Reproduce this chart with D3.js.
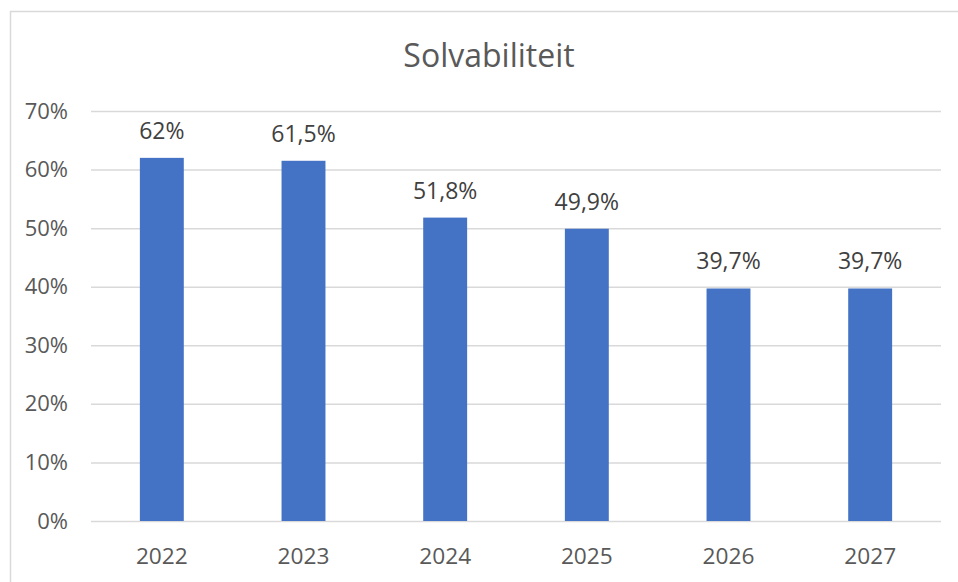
<!DOCTYPE html>
<html><head><meta charset="utf-8">
<script src="https://cdn.jsdelivr.net/npm/d3@7"></script>
<style>body{margin:0;background:#fff;}svg{display:block;}</style>
</head><body>
<script>
const categories = ["2022","2023","2024","2025","2026","2027"];
const values = [62, 61.5, 51.8, 49.9, 39.7, 39.7];
const valueLabels = ["62%","61,5%","51,8%","49,9%","39,7%","39,7%"];
const yTicks = [0,10,20,30,40,50,60,70];
const title = "Solvabiliteit";

const W = 958, H = 582;
const font = "'Open Sans', sans-serif";
const svg = d3.select("body").append("svg").attr("width", W).attr("height", H);

svg.append("rect").attr("x",10.5).attr("y",11.5).attr("width",W+10).attr("height",H+10)
  .attr("fill","#fff").attr("stroke","#D9D9D9").attr("stroke-width",1.5);

const m = {left:91, right:941, top:111, bottom:521};
const x = d3.scaleBand().domain(categories).range([m.left, m.right]).paddingInner(0.69).paddingOuter(0.345);
const y = d3.scaleLinear().domain([0,70]).range([m.bottom, m.top]);

svg.append("text").attr("x",489).attr("y",67).attr("text-anchor","middle")
  .attr("font-family",font).attr("font-size",32).attr("fill","#595959").text(title);

const yAxis = svg.append("g").attr("transform",`translate(${m.left},0)`)
  .call(d3.axisLeft(y).tickValues(yTicks).tickFormat(d=>d+"%").tickSize(-(m.right-m.left)).tickPadding(23));
yAxis.select(".domain").remove();
yAxis.selectAll(".tick line").attr("stroke","#D9D9D9").attr("stroke-width",1.5);
yAxis.selectAll(".tick text").attr("font-family",font).attr("font-size",22).attr("fill","#595959");

const xAxis = svg.append("g").attr("transform",`translate(0,${m.bottom})`)
  .call(d3.axisBottom(x).tickSize(0).tickPadding(27));
xAxis.select(".domain").remove();
xAxis.selectAll(".tick text").attr("font-family",font).attr("font-size",22.7).attr("fill","#595959");

svg.append("g").selectAll("rect").data(values).join("rect")
  .attr("x",(d,i)=>x(categories[i])).attr("width",x.bandwidth())
  .attr("y",d=>y(d)).attr("height",d=>y(0)-y(d)).attr("fill","#4472C4");

svg.append("g").selectAll("text").data(values).join("text")
  .attr("x",(d,i)=>x(categories[i])+x.bandwidth()/2).attr("y",d=>y(d)-19)
  .attr("text-anchor","middle").attr("font-family",font).attr("font-size",23).attr("fill","#404040")
  .text((d,i)=>valueLabels[i]);
</script>
</body></html>
